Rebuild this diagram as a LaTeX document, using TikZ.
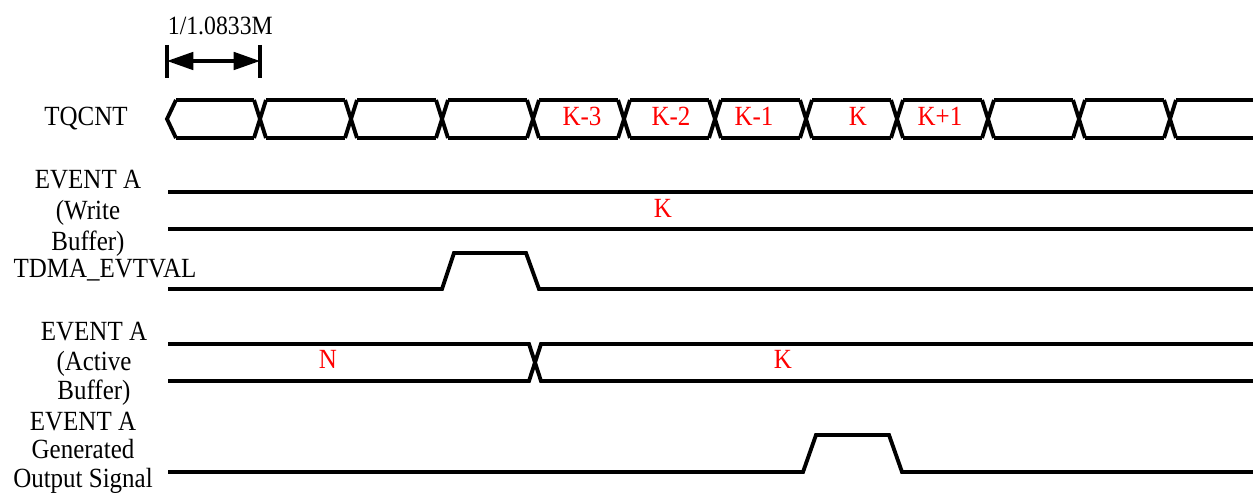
\documentclass[tikz,border=0pt]{standalone}
\usepackage{fontspec}
\setmainfont{Liberation Serif}[FakeStretch=0.9]
\usetikzlibrary{arrows.meta}
\definecolor{cred}{HTML}{FF0000}
\tikzset{
  every picture/.style={line width=2.2pt},
  sig/.style={line width=2.2pt},
  lbl/.style={font=\fontsize{15.8}{17}\selectfont, inner sep=0pt, align=center},
  val/.style={lbl, text=cred},
  bar/.style={line width=2.3pt},
  dim/.style={{Triangle[length=15pt,width=10pt]}-{Triangle[length=15pt,width=10pt]}, line width=1.8pt},
}

\begin{document}
\begin{tikzpicture}[x=0.02cm, y=-0.02cm]
  \useasboundingbox (0,0) rectangle (1253,493);
  % one count period
  \node[lbl, anchor=base west, font=\fontsize{15}{17}\selectfont] (period) at (166,35) {1/1.0833M};
  \coordinate (mL) at (167,61);
  \coordinate (mR) at (260,61);
  \draw[bar] (167,45) -- (167,78) (260,45) -- (260,78);
  \draw[dim] (mL) -- (mR);
  % signal names
  \node[lbl, anchor=base] (tq) at (86,126) {TQCNT};
  \node[lbl, anchor=north, font=\fontsize{15.8}{17.6}\selectfont] (wbuf) at (88,168) {EVENT A\\(Write\\Buffer)};
  \node[lbl, anchor=base] (evtval) at (105,277) {TDMA\_EVTVAL};
  \node[lbl, anchor=north] (abuf) at (94,320) {EVENT A\\(Active\\Buffer)};
  \node[lbl, anchor=north, font=\fontsize{15.8}{16.3}\selectfont] (gen) at (83,410) {EVENT A\\Generated\\Output Signal};
  % TQCNT bus
  \draw[sig] (176,100) -- (167,119) -- (176,138);
  \draw[sig] (176,100) -- (254,100) (176,138) -- (254,138);
  \foreach \c in {260,351,...,1170}
    \draw[sig] ({\c-6},100) -- ({\c+6},138) ({\c-6},138) -- ({\c+6},100);
  \foreach \c in {260,351,...,1079}
    \draw[sig] ({\c+6},100) -- ({\c+85},100) ({\c+6},138) -- ({\c+85},138);
  \draw[sig] (1176,100) -- (1253,100) (1176,138) -- (1253,138);
  \foreach \x/\t [count=\i] in {582/K-3, 671/K-2, 754/K-1, 858/K, 940/K+1}
    \node[val, anchor=base] (cnt\i) at (\x,126) {\t};
  % write buffer
  \draw[sig] (168,192) -- (1253,192) (168,229) -- (1253,229);
  \node[val, anchor=base] (wk) at (663,217) {K};
  % TDMA_EVTVAL
  \draw[sig] (168,289) -- (442,289) -- (454,253) -- (526,253) -- (539,289) -- (1253,289);
  % active buffer
  \draw[sig] (168,344) -- (529,344) -- (541,381) -- (1253,381);
  \draw[sig] (168,381) -- (529,381) -- (541,344) -- (1253,344);
  \node[val, anchor=base] (an) at (328,368) {N};
  \node[val, anchor=base] (ak) at (783,368) {K};
  % generated output
  \draw[sig] (168,472) -- (803,472) -- (816,435) -- (889,435) -- (902,472) -- (1253,472);
\end{tikzpicture}
\end{document}
